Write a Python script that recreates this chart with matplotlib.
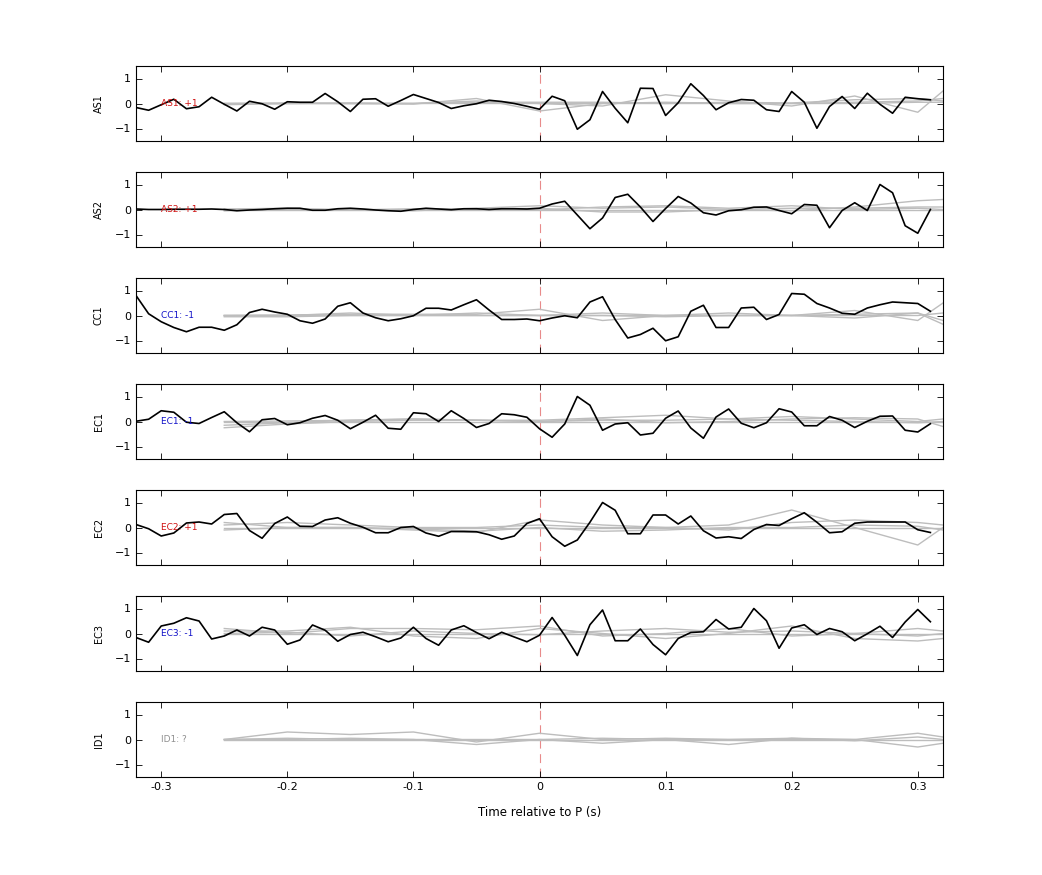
import matplotlib
matplotlib.use("Agg")
import matplotlib.pyplot as plt
import numpy as np

# sample times of the black traces (s)
t = np.round(np.arange(-0.32, 0.315, 0.01), 2)
# grey reference traces sampled every 0.05 s
tg = [-0.25, -0.20, -0.15, -0.10, -0.05, 0.0, 0.05, 0.10, 0.15, 0.20, 0.25, 0.30, 0.32]

names = ["AS1", "AS2", "CC1", "EC1", "EC2", "EC3", "ID1"]
labels = ["AS1: +1", "AS2: +1", "CC1: -1", "EC1: -1", "EC2: +1", "EC3: -1", "ID1: ?"]
label_colors = ["#d01010", "#d01010", "#1010c8", "#1010c8", "#d01010", "#1010c8", "#909090"]

as1 = [-0.16, -0.27, -0.05, 0.17, -0.21, -0.13, 0.25, -0.03, -0.30, 0.09, -0.01, -0.23,
       0.07, 0.05, 0.05, 0.40, 0.07, -0.32, 0.17, 0.19, -0.11, 0.12, 0.36, 0.20, 0.04,
       -0.20, -0.09, -0.01, 0.13, 0.08, 0.00, -0.11, -0.23, 0.29, 0.11, -1.03, -0.65,
       0.48, -0.19, -0.77, 0.61, 0.60, -0.48, 0.03, 0.79, 0.32, -0.25, 0.03, 0.16, 0.13,
       -0.25, -0.32, 0.48, 0.05, -0.99, -0.12, 0.28, -0.20, 0.41, -0.03, -0.39, 0.25,
       0.19, 0.15]
as2 = [0.02, 0.00, 0.00, 0.01, 0.01, 0.01, 0.02, 0.00, -0.05, -0.02, 0.00, 0.03, 0.05,
       0.05, -0.03, -0.03, 0.03, 0.05, 0.02, -0.02, -0.05, -0.07, 0.00, 0.05, 0.02, -0.01,
       0.03, 0.03, 0.00, 0.03, 0.03, 0.02, 0.05, 0.22, 0.33, -0.22, -0.77, -0.34, 0.48,
       0.61, 0.10, -0.48, 0.04, 0.52, 0.26, -0.13, -0.22, -0.05, -0.01, 0.09, 0.10, -0.04,
       -0.17, 0.20, 0.17, -0.73, -0.04, 0.27, -0.04, 1.00, 0.67, -0.65, -0.95, 0.00]
cc1 = [0.80, 0.07, -0.25, -0.48, -0.65, -0.47, -0.47, -0.59, -0.37, 0.12, 0.25, 0.14,
       0.05, -0.21, -0.31, -0.14, 0.37, 0.51, 0.10, -0.09, -0.21, -0.13, -0.01, 0.29, 0.29,
       0.22, 0.43, 0.63, 0.22, -0.16, -0.16, -0.14, -0.21, -0.10, -0.01, -0.09, 0.54, 0.75,
       -0.16, -0.90, -0.76, -0.51, -1.01, -0.85, 0.17, 0.41, -0.48, -0.48, 0.30, 0.33,
       -0.16, 0.04, 0.88, 0.85, 0.48, 0.30, 0.09, 0.05, 0.30, 0.43, 0.54, 0.51, 0.48, 0.17]
ec1 = [0.01, 0.09, 0.43, 0.37, -0.03, -0.08, 0.16, 0.39, -0.05, -0.41, 0.07, 0.12, -0.13,
       -0.05, 0.13, 0.24, 0.05, -0.29, -0.03, 0.25, -0.27, -0.31, 0.35, 0.31, 0.00, 0.43,
       0.12, -0.24, -0.08, 0.31, 0.27, 0.17, -0.29, -0.63, -0.10, 1.00, 0.65, -0.35, -0.10,
       -0.05, -0.54, -0.47, 0.13, 0.42, -0.26, -0.67, 0.18, 0.50, -0.07, -0.25, -0.05, 0.51,
       0.38, -0.17, -0.17, 0.20, 0.05, -0.24, 0.01, 0.21, 0.22, -0.35, -0.42, -0.09]
ec2 = [0.12, -0.05, -0.34, -0.22, 0.18, 0.22, 0.14, 0.52, 0.56, -0.12, -0.43, 0.16, 0.42,
       0.05, 0.04, 0.30, 0.39, 0.17, 0.01, -0.21, -0.21, 0.00, 0.04, -0.22, -0.35, -0.16,
       -0.16, -0.17, -0.29, -0.47, -0.34, 0.16, 0.35, -0.37, -0.75, -0.50, 0.21, 1.00, 0.69,
       -0.25, -0.25, 0.50, 0.50, 0.14, 0.46, -0.13, -0.42, -0.37, -0.44, -0.08, 0.12, 0.08,
       0.35, 0.59, 0.21, -0.21, -0.17, 0.17, 0.22, 0.22, 0.22, 0.22, -0.09, -0.20]
ec3 = [-0.16, -0.35, 0.30, 0.41, 0.63, 0.50, -0.22, -0.10, 0.14, -0.10, 0.25, 0.14, -0.43,
       -0.26, 0.34, 0.13, -0.31, -0.04, 0.05, -0.13, -0.33, -0.18, 0.25, -0.20, -0.47, 0.14,
       0.31, 0.04, -0.21, 0.05, -0.14, -0.33, -0.07, 0.64, -0.07, -0.88, 0.35, 0.94, -0.29,
       -0.29, 0.18, -0.44, -0.85, -0.20, 0.04, 0.07, 0.56, 0.18, 0.25, 1.00, 0.51, -0.59,
       0.22, 0.35, -0.04, 0.20, 0.07, -0.29, -0.01, 0.29, -0.16, 0.46, 0.96, 0.47]
black = [as1, as2, cc1, ec1, ec2, ec3, None]

grey = [
    [[0, 0, 0, 0, 0.10, 0.0, -0.10, 0.35, 0.10, -0.10, 0.30, -0.35, 0.50],
     [0, 0.02, 0.0, -0.02, 0.20, -0.30, 0.0, 0.05, 0.0, 0.0, 0.05, 0.10, 0.20],
     [-0.05, 0, 0.02, 0.0, 0.05, 0.05, 0.05, 0.0, 0.05, 0.02, 0.15, 0.20, 0.10],
     [0, 0, 0, 0, 0, 0, 0, 0, 0, 0, 0, 0.05, 0.05]],
    [[-0.05, 0.02, 0.0, -0.05, 0.05, 0.15, 0.05, 0.10, 0.0, -0.05, 0.10, 0.35, 0.40],
     [0.02, 0.05, -0.03, 0.03, 0.0, 0.05, -0.10, -0.10, 0.0, 0.05, 0.05, 0.10, 0.10],
     [0, -0.03, 0.0, 0.0, 0.02, -0.02, 0.10, 0.15, 0.05, 0.15, 0.0, 0.05, 0.0],
     [0, 0, 0, 0, 0, 0, 0, 0, 0, 0, 0, 0, 0]],
    [[0, 0.02, 0.05, 0.05, 0.05, 0.25, -0.20, 0.0, 0.0, 0.0, 0.20, -0.20, 0.50],
     [0, 0, 0.10, 0.0, 0.10, 0.0, 0.10, 0.0, 0.10, 0.0, -0.10, 0.10, -0.20],
     [0, 0, 0, 0, 0, 0, 0, 0, 0, 0, 0.05, 0.10, -0.35],
     [-0.05, -0.05, 0.0, 0.0, 0.0, 0.0, 0.0, -0.05, 0.0, 0.0, 0.0, 0.0, 0.10]],
    [[-0.25, -0.10, 0.0, 0.05, 0.05, 0.05, 0.15, 0.25, 0.10, 0.20, 0.10, 0.0, 0.10],
     [-0.15, -0.05, 0.05, 0.10, 0.05, 0.0, 0.10, -0.05, 0.0, 0.10, 0.15, 0.10, -0.20],
     [0, 0.02, 0.05, 0.10, 0.05, 0.0, 0.05, 0.05, 0.10, 0.05, 0.0, -0.05, 0.0],
     [0, 0, 0, 0, 0, 0, 0, 0, 0, 0, 0, 0, 0]],
    [[0.20, 0.0, 0.0, -0.10, -0.20, 0.30, 0.10, 0.0, 0.10, 0.70, 0.0, -0.70, 0.0],
     [0.10, 0.20, 0.10, 0.0, 0.0, 0.10, 0.0, 0.0, -0.10, 0.20, 0.30, 0.20, 0.10],
     [-0.10, 0.0, 0.0, -0.05, -0.15, 0.0, -0.15, -0.10, 0.0, 0.0, 0.10, 0.05, -0.10],
     [0, 0, 0, 0, 0, 0, 0, 0, 0, 0, 0, 0, 0]],
    [[0.20, 0.0, 0.20, 0.20, 0.15, 0.30, -0.10, 0.0, 0.20, -0.10, 0.0, 0.20, 0.10],
     [0.10, 0.10, 0.25, -0.10, -0.20, 0.20, 0.0, -0.20, 0.0, 0.30, -0.20, -0.30, -0.20],
     [0.0, 0.05, -0.10, 0.10, 0.0, -0.05, 0.10, 0.20, 0.05, 0.10, 0.0, -0.10, 0.0],
     [0, 0, 0, 0, 0, 0, 0, 0, 0, 0, 0, 0, 0]],
    [[0.0, 0.30, 0.20, 0.30, -0.10, 0.25, 0.0, 0.05, 0.0, 0.0, 0.0, 0.25, 0.10],
     [0.0, 0.05, 0.0, 0.0, -0.20, 0.0, -0.15, 0.0, -0.20, 0.05, 0.0, -0.30, -0.15],
     [0.0, 0.0, 0.05, 0.0, 0.0, 0.0, 0.05, 0.0, 0.0, 0.05, -0.05, 0.10, 0.0],
     [0, 0, 0, 0, 0, 0, 0, 0, 0, 0, 0, 0, 0]],
]

fig = plt.figure(figsize=(10.42, 8.75), dpi=100)
W, H = 1042, 875
left, right = 136, 943
for i, name in enumerate(names):
    top = 66 + 106 * i
    ax = fig.add_axes([left / W, 1 - (top + 75) / H, (right - left) / W, 75 / H])
    for g in grey[i]:
        ax.plot(tg, g, color="#bdbdbd", lw=1.0, zorder=2)
    ax.axvline(0, color="#e88a8a", lw=0.8, ls=(0, (8, 5)), zorder=1)
    if black[i] is not None:
        ax.plot(t, black[i], color="black", lw=1.2, zorder=3)
    ax.text(-0.30, 0.0, labels[i], color=label_colors[i], fontsize=6.5, va="center", ha="left", zorder=4)
    ax.set_xlim(-0.32, 0.32)
    ax.set_ylim(-1.5, 1.5)
    ax.set_yticks([-1, 0, 1])
    ax.set_xticks([-0.3, -0.2, -0.1, 0, 0.1, 0.2, 0.3])
    ax.tick_params(direction="in", top=True, right=True, labelsize=8, length=4, width=0.6)
    for s in ax.spines.values():
        s.set_linewidth(0.8)
    ax.set_ylabel(name, fontsize=7, labelpad=8)
    if i < len(names) - 1:
        ax.set_xticklabels([])
    else:
        ax.set_xticklabels(["-0.3", "-0.2", "-0.1", "0", "0.1", "0.2", "0.3"])
        ax.set_xlabel("Time relative to P (s)", fontsize=8.5, labelpad=10)

fig.savefig("out.png", dpi=100)
